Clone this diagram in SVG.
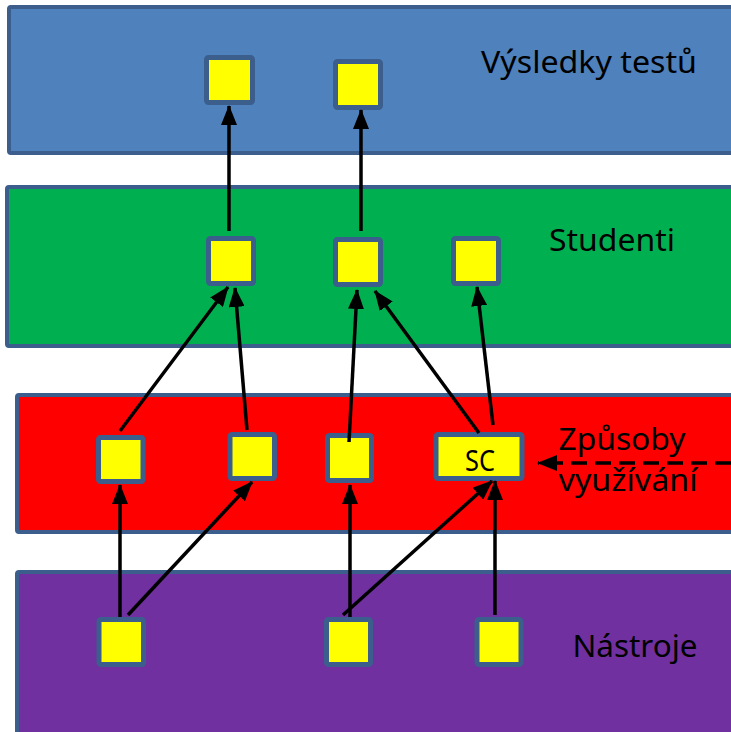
<svg xmlns="http://www.w3.org/2000/svg" width="731" height="732" viewBox="0 0 731 732">
<style>
.band{stroke:#3B5E8C;stroke-width:4}
.node{fill:#FFFF00;stroke:#3B5E8C;stroke-width:5}
.lbl{font-family:"Noto Sans","Open Sans","Liberation Sans",sans-serif;font-size:31px;fill:#000}
.sc{font-family:"Noto Sans","Open Sans","Liberation Sans",sans-serif;font-size:29px;fill:#000}
.conn{stroke:#000;stroke-width:3.5;fill:none}
</style>
<defs>
<marker id="ah" markerUnits="userSpaceOnUse" viewBox="0 0 20 16" refX="19" refY="8" markerWidth="20" markerHeight="16" orient="auto">
<path d="M0,0 L20,8 L0,16 z" fill="#000"/>
</marker>
</defs>
<g id="band-vysledky">
<rect class="band" x="9" y="7" width="740" height="146" rx="2" fill="#4F81BD"/>
<text class="lbl" x="481" y="73" textLength="216" lengthAdjust="spacingAndGlyphs">Výsledky testů</text>
</g>
<g id="band-studenti">
<rect class="band" x="7" y="187" width="740" height="159" rx="2" fill="#00B050"/>
<text class="lbl" x="549" y="251" textLength="126" lengthAdjust="spacingAndGlyphs">Studenti</text>
</g>
<g id="band-zpusoby">
<rect class="band" x="17" y="395" width="740" height="137" rx="2" fill="#FF0000"/>
<text class="lbl" x="558.5" y="450" textLength="127" lengthAdjust="spacingAndGlyphs">Způsoby</text>
<text class="lbl" x="558.5" y="491" textLength="139" lengthAdjust="spacingAndGlyphs">využívání</text>
</g>
<g id="band-nastroje">
<rect class="band" x="17" y="572" width="740" height="170" rx="2" fill="#7030A0"/>
<text class="lbl" x="572.5" y="657" textLength="125" lengthAdjust="spacingAndGlyphs">Nástroje</text>
</g>
<g id="B1"><rect class="node" x="206.5" y="57.5" width="46" height="45" rx="2"/></g>
<g id="B2"><rect class="node" x="335.5" y="61.5" width="45" height="46" rx="2"/></g>
<g id="G1"><rect class="node" x="208.5" y="238.5" width="45" height="45" rx="2"/></g>
<g id="G2"><rect class="node" x="335.5" y="239.5" width="45" height="45" rx="2"/></g>
<g id="G3"><rect class="node" x="453.5" y="238.5" width="45" height="45" rx="2"/></g>
<g id="R1"><rect class="node" x="98.5" y="437.5" width="44.5" height="44" rx="2"/></g>
<g id="R2"><rect class="node" x="230" y="434.5" width="44.5" height="44" rx="2"/></g>
<g id="R3"><rect class="node" x="327.5" y="435.5" width="44" height="45" rx="2"/></g>
<g id="SC"><rect class="node" x="436" y="434.5" width="86" height="44" rx="2"/>
<text class="sc" x="465" y="471" textLength="30" lengthAdjust="spacingAndGlyphs">SC</text></g>
<g id="P1"><rect class="node" x="99" y="619.5" width="44.5" height="45" rx="2"/></g>
<g id="P2"><rect class="node" x="326.5" y="619.5" width="44" height="45" rx="2"/></g>
<g id="P3"><rect class="node" x="477" y="619.5" width="44" height="45" rx="2"/></g>
<g id="connectors">
<line class="conn" x1="229" y1="231" x2="229" y2="106" marker-end="url(#ah)"/>
<line class="conn" x1="361" y1="231" x2="361" y2="110" marker-end="url(#ah)"/>
<line class="conn" x1="120" y1="431" x2="228" y2="287" marker-end="url(#ah)"/>
<line class="conn" x1="247" y1="430" x2="235" y2="288" marker-end="url(#ah)"/>
<line class="conn" x1="349" y1="442" x2="357" y2="290" marker-end="url(#ah)"/>
<line class="conn" x1="479" y1="433" x2="375" y2="291" marker-end="url(#ah)"/>
<line class="conn" x1="493" y1="425" x2="477" y2="287" marker-end="url(#ah)"/>
<line class="conn" x1="120" y1="617" x2="120" y2="485" marker-end="url(#ah)"/>
<line class="conn" x1="128" y1="615" x2="252" y2="482" marker-end="url(#ah)"/>
<line class="conn" x1="350" y1="617" x2="350" y2="485" marker-end="url(#ah)"/>
<line class="conn" x1="343" y1="615" x2="492" y2="481" marker-end="url(#ah)"/>
<line class="conn" x1="495" y1="615" x2="495" y2="481" marker-end="url(#ah)"/>
<line class="conn" x1="731" y1="463" x2="538" y2="463" stroke-dasharray="16 8" marker-end="url(#ah)"/>
</g>
</svg>
